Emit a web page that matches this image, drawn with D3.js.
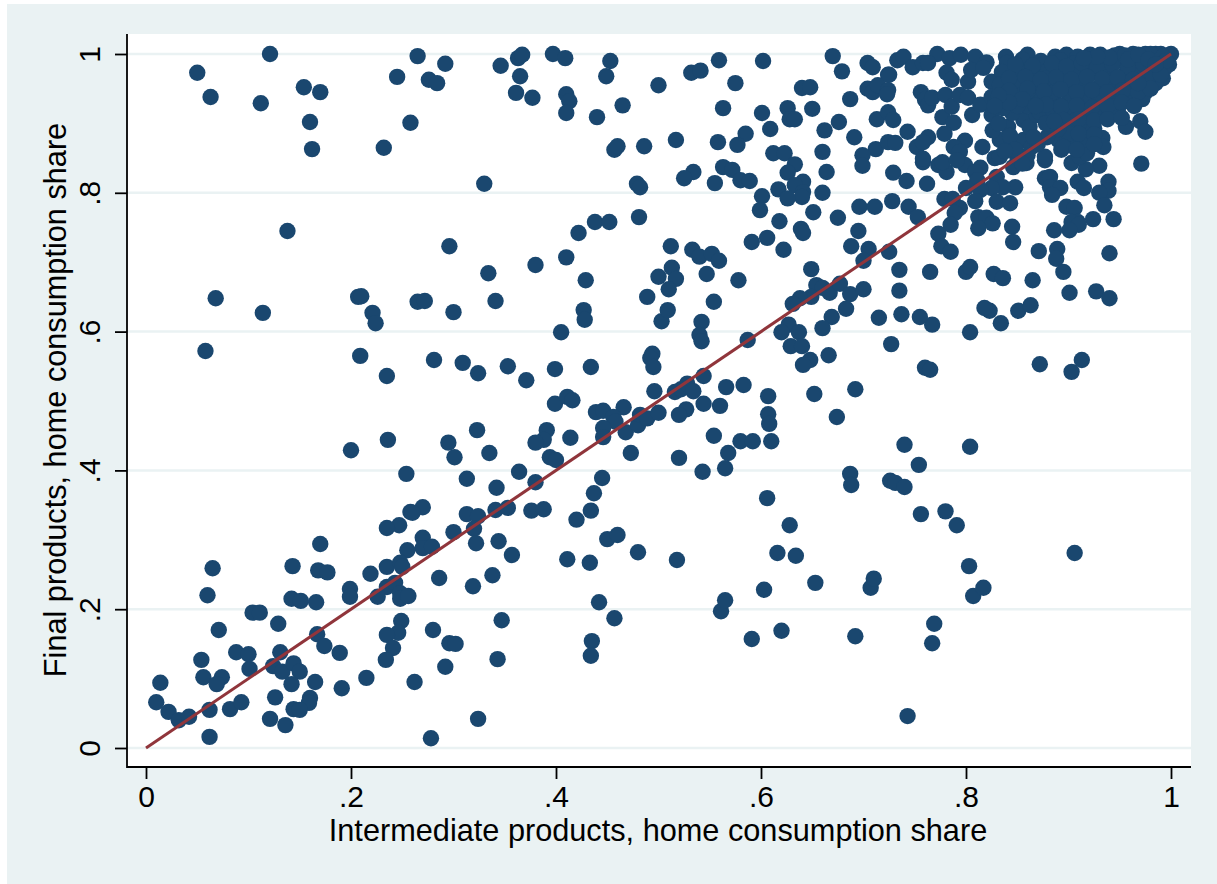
<!DOCTYPE html>
<html><head><meta charset="utf-8">
<script src="https://cdnjs.cloudflare.com/ajax/libs/d3/7.8.5/d3.min.js"></script>
<style>html,body{margin:0;padding:0;background:#fff}svg{display:block}text{font-family:"Liberation Sans",Arial,sans-serif;fill:#000}</style>
</head><body><div id="chart"></div>
<script>
const xTitle = "Intermediate products, home consumption share";
const yTitle = "Final products, home consumption share";
const tickValues = [0, .2, .4, .6, .8, 1];
const tickLabels = ["0", ".2", ".4", ".6", ".8", "1"];
const fitLine = [[0, 0], [1, 1]];

const upperLeft = [[.050,.973],[.063,.938],[.121,1],[.112,.929],[.154,.952],[.160,.902],[.170,.945],[.162,.863],[.245,.967],[.232,.865],[.258,.901],[.265,.997],[.276,.963],[.284,.958],[.292,.986],[.330,.813],[.138,.745],[.068,.648],[.114,.627],[.058,.572],[.296,.723],[.346,.983],[.361,.944],[.365,.968],[.363,.994],[.367,.999],[.377,.937],[.397,1],[.409,.994],[.410,.942],[.413,.932],[.410,.915],[.440,.909],[.449,.968],[.453,.990],[.465,.926],[.457,.862],[.460,.867],[.486,.867],[.500,.955],[.479,.813],[.482,.808],[.481,.765],[.422,.742],[.438,.758],[.452,.758],[.410,.707],[.380,.696],[.334,.684],[.341,.644],[.429,.674],[.427,.631],[.428,.617],[.405,.599],[.300,.628],[.265,.643],[.272,.644],[.207,.650],[.210,.651],[.221,.627],[.224,.612],[.209,.565],[.235,.536],[.281,.559],[.309,.555],[.324,.540],[.353,.550],[.371,.530],[.399,.546],[.434,.549],[.489,.650],[.500,.679],[.503,.615]];

const middle = [[.200,.429],[.236,.444],[.254,.395],[.295,.440],[.301,.419],[.323,.458],[.335,.425],[.313,.388],[.364,.398],[.494,.568],[.492,.562],[.495,.549],[.496,.514],[.399,.496],[.411,.506],[.416,.501],[.439,.484],[.446,.486],[.466,.491],[.456,.477],[.458,.470],[.446,.461],[.446,.448],[.468,.455],[.480,.465],[.482,.480],[.489,.475],[.500,.483],[.391,.458],[.388,.444],[.380,.440],[.414,.447],[.394,.419],[.400,.415],[.473,.425],[.380,.383],[.445,.389],[.437,.367],[.342,.375],[.516,.513],[.522,.517],[.528,.525],[.534,.514],[.527,.488],[.520,.480],[.544,.536],[.544,.496],[.560,.493],[.566,.520],[.583,.523],[.520,.418],[.543,.398],[.554,.450],[.568,.425],[.565,.403],[.580,.442],[.592,.442],[.610,.442],[.607,.507],[.607,.481],[.608,.467]];

const lowerLeft = [[.270,.347],[.258,.340],[.260,.339],[.247,.321],[.235,.317],[.170,.294],[.065,.259],[.060,.220],[.143,.262],[.168,.256],[.177,.253],[.270,.303],[.270,.288],[.279,.290],[.255,.285],[.300,.311],[.235,.261],[.248,.267],[.250,.261],[.219,.251],[.286,.245],[.235,.232],[.243,.238],[.226,.218],[.248,.223],[.248,.215],[.256,.219],[.199,.229],[.199,.218],[.142,.215],[.151,.212],[.166,.210],[.104,.195],[.111,.195],[.129,.179],[.071,.170],[.249,.183],[.246,.166],[.235,.163],[.241,.144],[.234,.127],[.280,.170],[.296,.151],[.292,.117],[.262,.095],[.167,.164],[.174,.147],[.189,.137],[.215,.101],[.191,.086],[.278,.014],[.054,.127],[.088,.138],[.100,.135],[.131,.138],[.101,.114],[.124,.118],[.133,.110],[.144,.122],[.150,.110],[.056,.102],[.074,.102],[.069,.092],[.142,.092],[.165,.095],[.014,.094],[.126,.073],[.160,.072],[.159,.065],[.144,.056],[.150,.055],[.010,.066],[.022,.052],[.032,.040],[.042,.045],[.062,.055],[.082,.056],[.093,.066],[.121,.042],[.136,.033],[.062,.016],[.324,.042],[.313,.337],[.324,.334],[.320,.316],[.322,.295],[.341,.343],[.353,.346],[.344,.298],[.357,.278],[.338,.249],[.319,.233],[.347,.184],[.343,.128],[.302,.150]];

const lowerRight = [[.376,.342],[.388,.344],[.420,.329],[.434,.342],[.433,.267],[.411,.272],[.450,.301],[.460,.307],[.480,.282],[.442,.210],[.457,.187],[.435,.154],[.434,.133],[.518,.271],[.561,.197],[.565,.213],[.591,.157],[.603,.228],[.606,.360],[.616,.281],[.628,.321],[.634,.277],[.653,.238],[.620,.169],[.692,.161],[.707,.231],[.710,.244],[.687,.395],[.688,.379],[.692,.517],[.674,.477],[.652,.510],[.726,.385],[.731,.382],[.740,.376],[.740,.437],[.754,.408],[.756,.337],[.780,.341],[.791,.321],[.804,.434],[.803,.262],[.807,.219],[.817,.231],[.769,.179],[.767,.151],[.743,.046],[.906,.281],[.760,.548],[.765,.545],[.727,.582],[.715,.620],[.737,.625],[.735,.659],[.767,.610],[.755,.621],[.804,.599],[.872,.553],[.903,.542],[.913,.559],[.901,.656],[.927,.658],[.940,.648],[.834,.612],[.823,.630],[.818,.634],[.851,.630],[.863,.638],[.865,.674],[.827,.683],[.836,.677],[.800,.686],[.804,.693]];

const upperMiddle = [[.532,.973],[.541,.976],[.559,.991],[.602,.990],[.575,.958],[.563,.922],[.670,.997],[.679,.975],[.704,.987],[.709,.981],[.724,.970],[.640,.951],[.648,.952],[.626,.922],[.650,.921],[.601,.915],[.628,.906],[.633,.906],[.687,.935],[.676,.902],[.662,.890],[.609,.892],[.517,.876],[.558,.873],[.585,.885],[.577,.869],[.691,.880],[.660,.859],[.612,.857],[.623,.857],[.633,.841],[.626,.829],[.712,.863],[.699,.854],[.699,.839],[.664,.830],[.534,.830],[.525,.821],[.563,.837],[.572,.833],[.580,.818],[.589,.817],[.555,.814],[.641,.816],[.633,.811],[.641,.801],[.640,.794],[.617,.805],[.626,.792],[.660,.800],[.601,.795],[.599,.775],[.651,.772],[.696,.780],[.711,.780],[.713,.906],[.704,.950],[.709,.945],[.714,.955],[.724,.948],[.724,.916],[.724,.873],[.618,.759],[.675,.764],[.639,.748],[.641,.742],[.606,.735],[.591,.729],[.622,.718],[.695,.745],[.688,.723],[.705,.719],[.700,.702],[.512,.723],[.533,.718],[.540,.708],[.552,.712],[.559,.702],[.513,.692],[.517,.676],[.510,.661],[.547,.683],[.578,.674],[.554,.643],[.509,.631],[.542,.614],[.540,.595],[.542,.586],[.587,.588],[.649,.690],[.654,.667],[.660,.663],[.667,.656],[.677,.669],[.687,.654],[.700,.661],[.649,.650],[.638,.648],[.631,.640],[.683,.633],[.669,.621],[.660,.605],[.627,.610],[.620,.599],[.637,.599],[.629,.579],[.640,.579],[.648,.559],[.641,.552],[.666,.566]];

const rightSide = [[.971,.842],[.930,.839],[.917,.834],[.903,.843],[.877,.847],[.859,.843],[.846,.837],[.758,.844],[.729,.829],[.742,.817],[.762,.813],[.773,.840],[.781,.830],[.799,.840],[.814,.836],[.809,.830],[.811,.818],[.830,.823],[.848,.808],[.836,.808],[.825,.807],[.800,.807],[.814,.804],[.877,.821],[.882,.823],[.882,.808],[.892,.807],[.884,.797],[.909,.816],[.915,.807],[.939,.816],[.939,.803],[.930,.800],[.935,.782],[.898,.780],[.906,.778],[.924,.762],[.944,.762],[.909,.758],[.903,.758],[.910,.754],[.901,.746],[.886,.746],[.728,.788],[.744,.780],[.753,.765],[.779,.791],[.787,.791],[.794,.778],[.789,.771],[.785,.754],[.809,.788],[.830,.787],[.843,.785],[.812,.765],[.820,.764],[.826,.756],[.812,.749],[.845,.751],[.846,.729],[.773,.741],[.776,.723],[.785,.715],[.871,.716],[.889,.719],[.888,.705],[.895,.686],[.940,.713],[.725,.715],[.735,.689],[.765,.686]];

const upperRight = [[.733,.991],[.739,.996],[.748,.981],[.758,.987],[.772,1],[.763,.987],[.784,.994],[.795,.999],[.809,.996],[.820,.988],[.839,.996],[.860,.999],[.873,.990],[.887,.996],[.898,.999],[.909,.996],[.921,.999],[.931,.999],[.950,1],[.963,1],[.725,.970],[.723,.942],[.756,.945],[.760,.934],[.763,.926],[.767,.937],[.729,.905],[.780,.941],[.781,.973],[.786,.963],[.777,.909],[.788,.901],[.786,.924],[.794,.941],[.802,.937],[.806,.912],[.814,.927],[.802,.960],[.805,.977],[.817,.980],[.825,.960],[.825,.938],[.743,.888],[.731,.872],[.763,.880],[.752,.866],[.758,.873],[.758,.849],[.779,.885],[.799,.875],[.788,.866],[.794,.859],[.816,.866],[.777,.844],[.791,.847]];

const dense = [[.938,.927],[.948,.919],[.956,.895],[.970,.903],[.975,.888],[.975,.945],[.992,.965],[.962,.948],[.948,.945],[.933,.879],[.934,.866],[.919,.895],[.911,.852],[.918,.857],[.877,.852],[.897,.880],[.901,.898],[.890,.876],[.833,.876],[.826,.890],[.825,.912],[.841,.895],[.845,.872],[.828,.850],[.833,.852],[.850,.852],[.856,.876],[.856,.905],[.862,.895],[.869,.912],[.882,.909],[.879,.880],[.864,.866],[.860,.854],
[.840,.987],[.855,.992],[.876,.985],[.892,.991],[.905,.986],[.920,.992],[.936,.988],[.950,.993],[.966,.990],[.981,.995],[.990,.992],[1,1],[.996,.998],[.985,1],[.975,1],[.970,.996],[.945,.998],[.990,1],[.980,1],
[.835,.974],[.851,.977],[.866,.972],[.880,.976],[.896,.973],[.911,.978],[.925,.974],[.940,.977],[.956,.973],[.970,.978],[.985,.975],[.994,.980],[.998,.985],
[.833,.956],[.850,.958],[.868,.953],[.885,.957],[.900,.954],[.915,.958],[.930,.953],[.945,.957],[.960,.953],[.975,.958],[.985,.958],
[.836,.936],[.853,.940],[.868,.932],[.885,.937],[.900,.933],[.917,.938],[.930,.934],[.945,.937],[.960,.932],[.972,.935],
[.872,.916],[.885,.918],[.900,.914],[.915,.917],[.930,.913],[.940,.915],
[.900,.895],[.915,.897],[.925,.893],[.905,.873],[.915,.876],[.893,.862],[.845,.915],[.836,.922],[.907,.905],[.892,.925],[.860,.946],[.878,.965]];

const denseFill = [[.848,.985],[.865,.983],[.884,.986],[.898,.982],[.913,.987],[.928,.983],[.943,.985],[.958,.982],[.973,.986],[.986,.984],[.955,.998],[.958,.992],[.940,.995],[.928,.996],[.915,.994],[.968,.999],[.978,.992],[.992,.996],[.995,.990],
[.842,.965],[.858,.967],[.873,.963],[.888,.966],[.903,.963],[.918,.967],[.933,.964],[.948,.966],[.963,.963],[.978,.967],[.990,.970],[.985,.985],
[.842,.947],[.860,.950],[.876,.946],[.892,.949],[.908,.945],[.923,.948],[.938,.945],[.953,.948],[.968,.945],[.980,.950],[.968,.958],
[.860,.925],[.878,.927],[.893,.924],[.908,.926],[.923,.923],[.938,.925],[.952,.930],[.964,.925],
[.895,.905],[.910,.906],[.925,.904],[.938,.906],[.952,.908],[.900,.885],[.910,.885],[.925,.884],[.895,.866],[.908,.862],[.925,.870],
[.870,.870],[.843,.882],[.848,.862],[.838,.860],[.855,.842],[.866,.880],[.850,.925],[.855,.935],[.842,.930],[.832,.940],[.828,.925],[.832,.900],[.868,.925],[.878,.900],[.890,.892],[.886,.903]];

const W = 1217, H = 884;
const x = d3.scaleLinear().domain([0, 1]).range([146, 1171]);
const y = d3.scaleLinear().domain([0, 1]).range([748, 54]);
const plot = {l: 127, r: 1191, t: 34, b: 767};

const svg = d3.select("#chart").append("svg").attr("width", W).attr("height", H);
svg.append("rect").attr("x", 7).attr("y", 4).attr("width", W - 7).attr("height", H - 4).attr("fill", "#eaf2f3");
svg.append("rect").attr("x", plot.l).attr("y", plot.t).attr("width", plot.r - plot.l).attr("height", plot.b - plot.t).attr("fill", "#fff");

svg.append("g").selectAll("line").data(tickValues).join("line")
  .attr("x1", plot.l).attr("x2", plot.r).attr("y1", d => y(d)).attr("y2", d => y(d))
  .attr("stroke", "#eaf2f3").attr("stroke-width", 2.5);

const allPoints = [upperLeft, middle, lowerLeft, lowerRight, upperMiddle, rightSide, upperRight, dense, denseFill].flat();
svg.append("g").selectAll("circle").data(allPoints).join("circle")
  .attr("cx", d => x(d[0])).attr("cy", d => y(d[1])).attr("r", 8.2).attr("fill", "#1a476f");

svg.append("path").datum(fitLine)
  .attr("d", d3.line().x(d => x(d[0])).y(d => y(d[1])))
  .attr("fill", "none").attr("stroke", "#90353b").attr("stroke-width", 3);

const fmt = d => tickLabels[tickValues.indexOf(d)];
const xAxis = svg.append("g").attr("transform", `translate(0,${plot.b})`)
  .call(d3.axisBottom(x).tickValues(tickValues).tickFormat(fmt).tickSize(12).tickSizeOuter(0).tickPadding(3));
const yAxis = svg.append("g").attr("transform", `translate(${plot.l},0)`)
  .call(d3.axisLeft(y).tickValues(tickValues).tickFormat(fmt).tickSize(12).tickSizeOuter(0));
[xAxis, yAxis].forEach(a => {
  a.select(".domain").remove();
  a.selectAll("line").attr("stroke", "#000").attr("stroke-width", 1.8);
  a.selectAll("text").attr("font-size", 30).attr("font-family", '"Liberation Sans",Arial,sans-serif').attr("fill", "#000");
});
xAxis.selectAll("text").attr("y", null).attr("dy", null).attr("text-anchor", "middle")
  .attr("transform", "translate(0,40)");
yAxis.selectAll("text").attr("x", null).attr("dy", null).attr("text-anchor", "middle")
  .attr("transform", "translate(-27,0) rotate(-90)");

svg.append("line").attr("x1", plot.l).attr("x2", plot.l).attr("y1", plot.t).attr("y2", plot.b + 1).attr("stroke", "#000").attr("stroke-width", 1.8);
svg.append("line").attr("x1", plot.l).attr("x2", plot.r).attr("y1", plot.b).attr("y2", plot.b).attr("stroke", "#000").attr("stroke-width", 1.8);

svg.append("text").attr("x", 658).attr("y", 841).attr("text-anchor", "middle").attr("font-size", 30.7).text(xTitle);
svg.append("text").attr("transform", "translate(66,400) rotate(-90)").attr("text-anchor", "middle").attr("font-size", 30.7).text(yTitle);
</script></body></html>
